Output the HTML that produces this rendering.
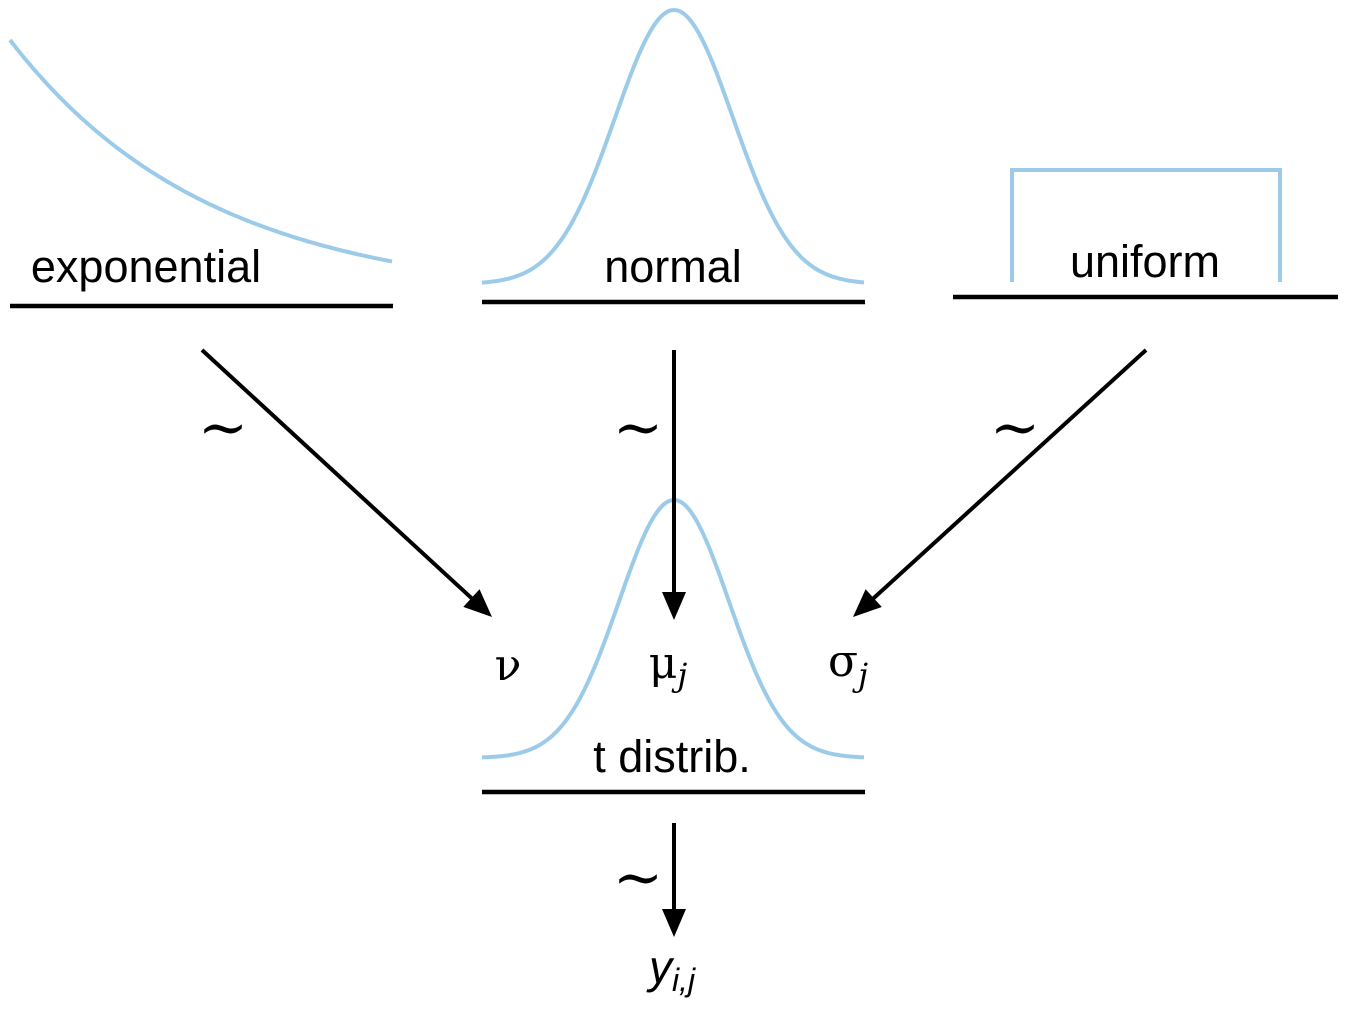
<!DOCTYPE html>
<html><head><meta charset="utf-8"><style>
html,body{margin:0;padding:0;background:#fff;}
svg{display:block}
text{font-family:"Liberation Sans",sans-serif;fill:#000}
.m{font-family:"DejaVu Serif","Liberation Serif",serif}
</style></head><body>
<svg id="s" width="1348" height="1019" viewBox="0 0 1348 1019" xmlns="http://www.w3.org/2000/svg">
<g stroke="#000" stroke-width="4.5">
<line x1="10" y1="306" x2="393" y2="306"/>
<line x1="482" y1="302" x2="865" y2="302"/>
<line x1="953" y1="297" x2="1338" y2="297"/>
<line x1="482" y1="792" x2="865" y2="792"/>
</g>
<polyline points="1012,282 1012,170 1280,170 1280,282" fill="none" stroke="#9ccbea" stroke-width="4"/>
<g id="curves" fill="none" stroke="#9ccbea" stroke-width="4"></g>
<g id="arrows" stroke="#000" stroke-width="4"></g>
<text x="146" y="282" font-size="45" text-anchor="middle">exponential</text>
<text x="673" y="282" font-size="45" text-anchor="middle">normal</text>
<text x="1145" y="277" font-size="45" text-anchor="middle">uniform</text>
<text x="672" y="772" font-size="45" text-anchor="middle">t distrib.</text>
<g font-size="60" class="m" text-anchor="middle">
<text x="223" y="448" class="m">~</text>
<text x="638" y="448" class="m">~</text>
<text x="1015" y="448" class="m">~</text>
<text x="638" y="898" class="m">~</text>
</g>
<text x="508" y="680" font-size="44" class="m" text-anchor="middle">ν</text>
<text x="668" y="678" font-size="44" class="m" text-anchor="middle">μ<tspan font-size="32" font-style="italic" dy="8">j</tspan></text>
<text x="848" y="676" font-size="44" class="m" text-anchor="middle">σ<tspan font-size="32" font-style="italic" dy="10">j</tspan></text>
<text x="672" y="983" font-size="46" font-style="italic" text-anchor="middle">y<tspan font-size="32" dy="8">i,j</tspan></text>
</svg>
<script>
const gauss1 = {c:674, peak:10, base:284, s:59, x0:482, x1:865};
const gauss2 = {c:674, peak:500, base:758, s:55, x0:482, x1:865};
const expo = {x0:10, x1:393, y0:40, k:200, amp:260};
const arrowStarts = [[202,350],[674,350],[1146,350],[674,823]];
const arrowEnds = [[492,617],[674,620],[853,617],[674,937]];
const ns="http://www.w3.org/2000/svg";
const cg=document.getElementById('curves');
function gpath(g){let d='';for(let x=g.x0;x<=g.x1;x+=2){const y=g.base-(g.base-g.peak)*Math.exp(-((x-g.c)**2)/(2*g.s*g.s));d+=(d?'L':'M')+x+','+y.toFixed(1);}return d;}
function epath(e){let d='';for(let x=e.x0;x<=e.x1;x+=2){const y=e.y0+e.amp*(1-Math.exp(-(x-e.x0)/e.k));d+=(d?'L':'M')+x+','+y.toFixed(1);}return d;}
[[gpath(gauss1),'normal-curve'],[gpath(gauss2),'t-distrib-curve'],[epath(expo),'exponential-curve']].forEach(([d,n])=>{
const p=document.createElementNS(ns,'path');p.setAttribute('d',d);


cg.appendChild(p);});
const ag=document.getElementById('arrows');
arrowStarts.forEach((s,i)=>{const e=arrowEnds[i];
const dx=e[0]-s[0],dy=e[1]-s[1],L=Math.hypot(dx,dy),ux=dx/L,uy=dy/L;
const l=document.createElementNS(ns,'line');
l.setAttribute('x1',s[0]);l.setAttribute('y1',s[1]);l.setAttribute('x2',e[0]-ux*20);l.setAttribute('y2',e[1]-uy*20);


ag.appendChild(l);
const bx=e[0]-ux*28,by=e[1]-uy*28,px=-uy*12,py=ux*12;
const t=document.createElementNS(ns,'polygon');
t.setAttribute('points',`${e[0]},${e[1]} ${bx+px},${by+py} ${bx-px},${by-py}`);
t.setAttribute('fill','#000');t.setAttribute('stroke','none');


ag.appendChild(t);});
</script>
</body></html>
